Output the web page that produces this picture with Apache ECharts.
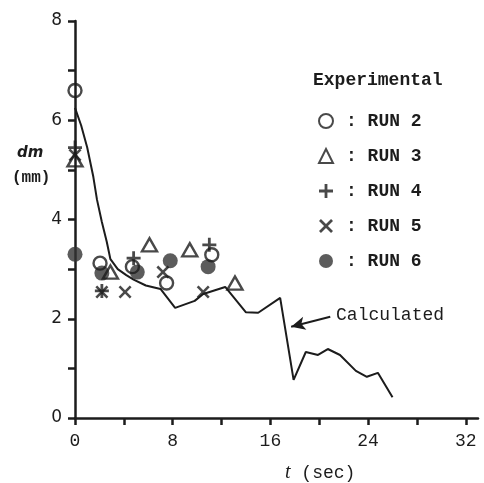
<!DOCTYPE html>
<html><head><meta charset="utf-8">
<script src="https://cdn.jsdelivr.net/npm/echarts@6/dist/echarts.min.js"></script>
<style>html,body{margin:0;padding:0;background:#fff}#c{width:484px;height:483px}</style>
</head><body><div id="c"></div>
<script>
// Calculated curve
const calcT = [0, 0.5, 1.0, 1.5, 1.8, 2.2, 2.6, 2.9, 3.5, 4.2, 4.8, 5.8, 7.0, 8.2, 9.8, 10.5, 12.3, 14.0, 15.0, 16.8, 17.9, 18.9, 19.9, 20.7, 21.7, 23.0, 23.9, 24.8, 26.0];
const calcD = [6.25, 5.9, 5.45, 4.86, 4.4, 3.95, 3.55, 3.2, 3.0, 2.88, 2.79, 2.67, 2.6, 2.22, 2.36, 2.5, 2.64, 2.13, 2.12, 2.42, 0.77, 1.33, 1.27, 1.39, 1.27, 0.95, 0.83, 0.91, 0.42];
// Experimental runs
const run2T = [0, 2.05, 4.7, 7.5, 11.2];
const run2D = [6.6, 3.12, 3.05, 2.72, 3.29];
const run3T = [0, 2.9, 6.1, 9.4, 13.1];
const run3D = [5.2, 2.94, 3.49, 3.39, 2.72];
const run4T = [0, 2.2, 4.8, 11.0];
const run4D = [5.45, 2.56, 3.22, 3.49];
const run5T = [0, 2.2, 4.1, 7.2, 10.5];
const run5D = [5.3, 2.54, 2.54, 2.94, 2.54];
const run6T = [0, 2.2, 5.1, 7.8, 10.9];
const run6D = [3.3, 2.92, 2.94, 3.17, 3.05];
const xTicks = [0, 4, 8, 12, 16, 20, 24, 28, 32];
const xLabels = [0, 8, 16, 24, 32];
const yLabels = [0, 2, 4, 6, 8];
const runNames = ['RUN 2', 'RUN 3', 'RUN 4', 'RUN 5', 'RUN 6'];

const zip = (a, b) => a.map((v, i) => [v, b[i]]);
const INK = '#1c1c1c';
const MONO = '"Liberation Mono", "DejaVu Sans Mono", monospace';
const PLUS = 'path://M4,0H6V4H10V6H6V10H4V6H0V4H4Z';
const CROSS = 'path://M1.4,0L5,3.6L8.6,0L10,1.4L6.4,5L10,8.6L8.6,10L5,6.4L1.4,10L0,8.6L3.6,5L0,1.4Z';

const chart = echarts.init(document.getElementById('c'), null, {renderer: 'canvas'});
chart.setOption({
  backgroundColor: '#fff',
  animation: false,
  grid: {left: 75, right: 6, top: 21, bottom: 65},
  title: {text: 'Experimental', left: 308, top: 66,
    textStyle: {fontFamily: MONO, fontSize: 18, fontWeight: 'bold', color: INK}},
  legend: {
    orient: 'vertical', left: 318, top: 112, padding: 0, itemWidth: 14, itemHeight: 14, itemGap: 17,
    data: runNames,
    formatter: n => ': ' + n,
    textStyle: {fontFamily: MONO, fontSize: 18, fontWeight: 'bold', color: INK, padding: [0, 0, 0, 8]}
  },
  xAxis: {
    type: 'value', min: 0, max: 33,
    axisLine: {lineStyle: {color: INK, width: 2.5}},
    axisTick: {length: 7, lineStyle: {color: INK, width: 2.5}, customValues: xTicks},
    axisLabel: {customValues: xLabels, margin: 14, fontFamily: MONO, fontSize: 18, color: INK},
    splitLine: {show: false}
  },
  yAxis: {
    type: 'value', min: 0, max: 8, interval: 1,
    axisLine: {show: true, lineStyle: {color: INK, width: 2.5}},
    axisTick: {show: true, length: 7, lineStyle: {color: INK, width: 2.5}},
    axisLabel: {margin: 13, fontFamily: '"DejaVu Sans", sans-serif', fontSize: 17, color: INK,
      formatter: v => yLabels.includes(v) ? String(v) : ''},
    splitLine: {show: false}
  },
  graphic: [
    {type: 'text', left: 17, top: 146, style: {text: 'dm', font: 'italic bold 15px "DejaVu Sans"', fill: INK}},
    {type: 'text', left: 12, top: 170, style: {text: '(mm)', font: 'bold 16px "Liberation Mono"', fill: INK}},
    {type: 'text', left: 285, top: 463, style: {text: '{i|t} (sec)', font: '18px "Liberation Mono"', fill: INK,
      rich: {i: {fontStyle: 'italic', fontFamily: 'Liberation Serif', fontSize: 20, fill: INK}}}}
  ],
  series: [
    {name: 'Calculated', type: 'line', data: zip(calcT, calcD), symbol: 'none',
     lineStyle: {color: INK, width: 2}, z: 2,
     markLine: {silent: true, symbol: ['none', 'arrow'], symbolSize: [10, 14],
       lineStyle: {color: INK, width: 2, type: 'solid'},
       label: {show: true, position: 'start', formatter: 'Calculated', distance: 6,
         fontFamily: MONO, fontSize: 18, color: INK},
       data: [[{coord: [20.9, 2.04]}, {coord: [17.7, 1.84]}]]}},
    {name: 'RUN 2', type: 'scatter', data: zip(run2T, run2D), symbol: 'circle', symbolSize: 13,
     itemStyle: {color: 'rgba(255,255,255,0)', borderColor: INK, borderWidth: 2.4}, z: 5},
    {name: 'RUN 3', type: 'scatter', data: zip(run3T, run3D), symbol: 'triangle', symbolSize: [15, 13],
     itemStyle: {color: 'rgba(255,255,255,0)', borderColor: INK, borderWidth: 2.4}, z: 5},
    {name: 'RUN 4', type: 'scatter', data: zip(run4T, run4D), symbol: PLUS, symbolSize: 14,
     itemStyle: {color: INK}, z: 5},
    {name: 'RUN 5', type: 'scatter', data: zip(run5T, run5D), symbol: CROSS, symbolSize: 13,
     itemStyle: {color: INK}, z: 5},
    {name: 'RUN 6', type: 'scatter', data: zip(run6T, run6D), symbol: 'circle', symbolSize: 15,
     itemStyle: {color: '#333'}, z: 4}
  ]
});
</script></body></html>
